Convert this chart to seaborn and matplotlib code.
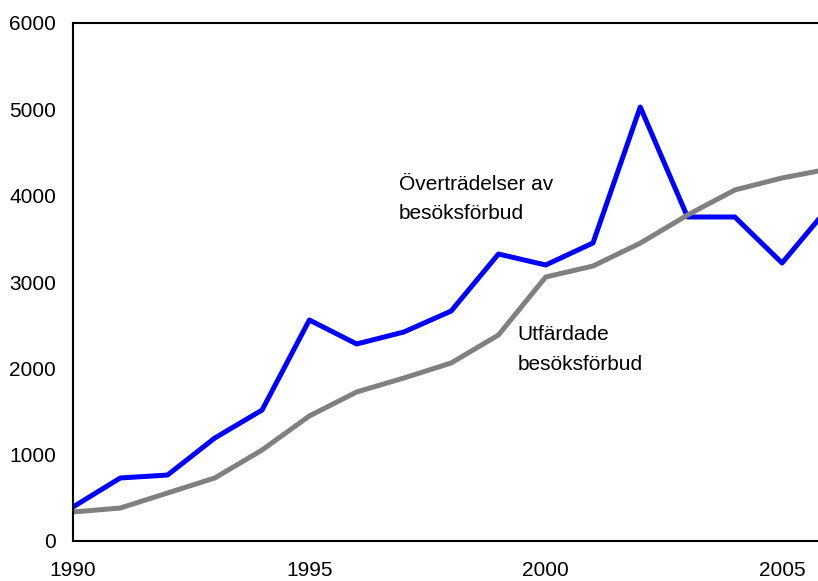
import pandas as pd
import seaborn as sns
import matplotlib.pyplot as plt

# Data
years = list(range(1990, 2007))
overtradelser = [394, 730, 764, 1193, 1517, 2560, 2282, 2421, 2664, 3324,
                 3197, 3452, 5027, 3753, 3753, 3220, 3875]
utfardade = [336, 382, 556, 730, 1054, 1448, 1726, 1888, 2062, 2386,
             3058, 3185, 3450, 3776, 4066, 4205, 4310]

df = pd.DataFrame({
    "År": years * 2,
    "Antal": overtradelser + utfardade,
    "Serie": ["Överträdelser"] * len(years) + ["Utfärdade"] * len(years),
})

sns.set_theme(style="white")
plt.rcParams["font.family"] = ["Liberation Sans", "DejaVu Sans"]

fig = plt.figure(figsize=(8.18, 5.81), dpi=100)
ax = fig.add_axes([73 / 818, 40 / 581, 1 - 73 / 818, (541 - 23) / 581])

sns.lineplot(data=df, x="År", y="Antal", hue="Serie",
             palette={"Överträdelser": "#0000FF", "Utfärdade": "#808080"},
             linewidth=3.6, legend=False, ax=ax)

ax.set_xlim(1990, 2005.76)
ax.set_ylim(0, 6000)
ax.set_xticks([1990, 1995, 2000, 2005])
ax.set_yticks(range(0, 7000, 1000))
ax.set_xlabel("")
ax.set_ylabel("")

for side in ["left", "bottom", "top"]:
    ax.spines[side].set_color("black")
    ax.spines[side].set_linewidth(1.5)
ax.spines["right"].set_visible(False)

ax.tick_params(axis="both", direction="out", length=3.6, width=1,
               color="#808080", labelsize=15, labelcolor="black")
ax.tick_params(axis="x", pad=11)
ax.tick_params(axis="y", pad=8.5)

ax.text(1996.89, 4240, "Överträdelser av\nbesöksförbud", fontsize=15,
        va="top", ha="left", linespacing=1.7, color="black")
ax.text(1999.41, 2500, "Utfärdade\nbesöksförbud", fontsize=15,
        va="top", ha="left", linespacing=1.7, color="black")

plt.savefig("out.png", dpi=100)
